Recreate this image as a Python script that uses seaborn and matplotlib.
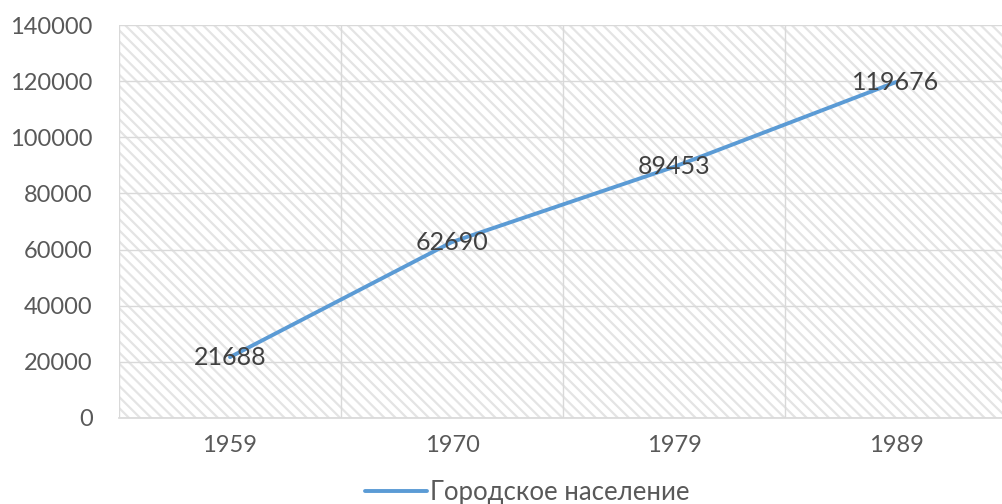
import matplotlib
matplotlib.use("Agg")
import matplotlib.pyplot as plt
import seaborn as sns
import pandas as pd

years = ["1959", "1970", "1979", "1989"]
urban = [21688, 62690, 89453, 119676]
series_name = "Городское население"
yticks = [0, 20000, 40000, 60000, 80000, 100000, 120000, 140000]

sns.set_theme(style="white")
plt.rcParams['font.family'] = ['Lato', 'DejaVu Sans']
plt.rcParams['hatch.linewidth'] = 1.6
plt.rcParams['hatch.color'] = '#e4e4e4'

df = pd.DataFrame({"year": years, "value": urban})

fig = plt.figure(figsize=(10.02, 5.04), dpi=100)
ax = fig.add_axes([119/1002, 86/504, 888/1002, 393/504])

# hatched background
ax.add_patch(plt.Rectangle((0, 0), 1, 1, transform=ax.transAxes, facecolor='white',
                           edgecolor='#e4e4e4', hatch='\\\\\\', linewidth=0, zorder=0))

sns.lineplot(data=df, x="year", y="value", ax=ax, color='#5B9BD5', linewidth=2.8,
             label=series_name, sort=False, zorder=3)

for i, v in enumerate(urban):
    ax.text(i, v, str(v), ha='center', va='center', fontsize=18, color='#404040', zorder=4)

ax.set_xlim(-0.5, 3.5)
ax.set_ylim(0, 140000)
ax.set_yticks(yticks)
ax.set_yticklabels([str(t) for t in yticks])
ax.set_xticks([-0.5, 0.5, 1.5, 2.5, 3.5], minor=False)
ax.set_xticklabels([])
ax.set_xticks([0, 1, 2, 3], minor=True)
ax.set_xticklabels(years, minor=True)
ax.grid(True, which='major', axis='both', color='#d9d9d9', linewidth=1.0, zorder=1)
ax.set_axisbelow(True)
ax.tick_params(axis='both', which='both', length=0, labelsize=17, colors='#595959')
ax.tick_params(axis='x', which='minor', pad=12)
ax.tick_params(axis='y', pad=19)
for s in ['top', 'right', 'left']:
    ax.spines[s].set_visible(False)
ax.spines['bottom'].set_color('#d9d9d9')
ax.set_xlabel("")
ax.set_ylabel("")

leg = ax.legend(loc='center', bbox_to_anchor=(0.46, -0.19), frameon=False,
                fontsize=18.5, handlelength=2.4, handletextpad=0.12, labelcolor='#595959')
fig.savefig("out.png", dpi=100)
